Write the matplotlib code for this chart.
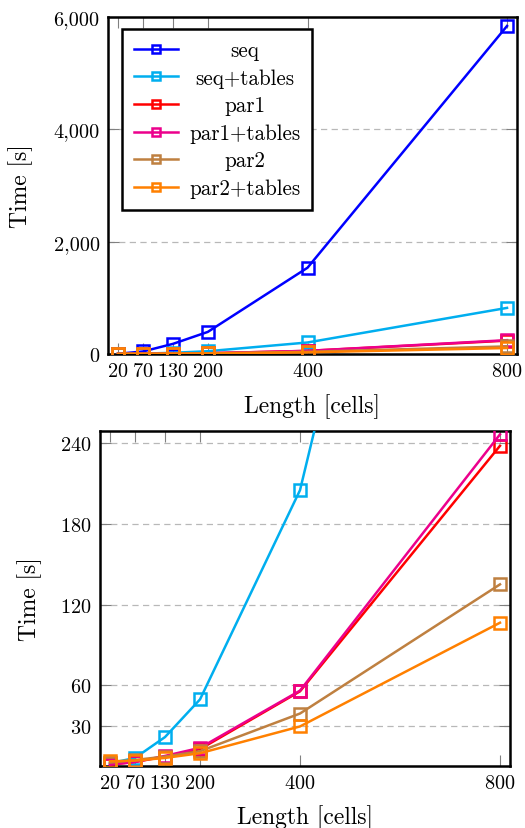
import matplotlib
matplotlib.use("Agg")
import matplotlib.pyplot as plt
from matplotlib.ticker import FixedLocator, FuncFormatter

plt.rcParams['font.family'] = ['cmr10', 'DejaVu Serif']
plt.rcParams['axes.formatter.use_mathtext'] = True

# ---- data ----
lengths = [20, 70, 130, 200, 400, 800]
seq = [4, 45, 180, 393, 1536, 5840]
seq_tables = [2, 6, 21.5, 49.5, 205, 821]
par1 = [1, 3, 7, 12.5, 55.5, 238]
par1_tables = [1, 3, 7.5, 13.5, 56, 246.5]
par2 = [2.5, 4.5, 7, 11, 39, 135]
par2_tables = [3.5, 4, 6, 9.5, 29.4, 106.5]

labels = ["seq", "seq+tables", "par1", "par1+tables", "par2", "par2+tables"]
colors = ["#0000FF", "#00AEEF", "#FF0000", "#EC008C", "#BF8040", "#FF8000"]
top_series = [seq, seq_tables, par1, par1_tables, par2, par2_tables]
bottom_series = [None, seq_tables, par1, par1_tables, par2, par2_tables]

x_ticks = [20, 70, 130, 200, 400, 800]
top_yticks = [0, 2000, 4000, 6000]
bottom_yticks = [30, 60, 120, 180, 240]

W, H = 525, 829
fig = plt.figure(figsize=(W / 100, H / 100), dpi=100)

def px_axes(l, t, r, b):
    return fig.add_axes([l / W, 1 - b / H, (r - l) / W, (b - t) / H])

ax1 = px_axes(108, 18, 517, 355)
ax2 = px_axes(100, 432, 510, 767)

FS = 14.6
LEGFS = 15.2
LFS = 17
LW = 1.8

def style(ax):
    for s in ax.spines.values():
        s.set_linewidth(1.8)
        s.set_color('black')
    ax.tick_params(direction='in', length=8, width=0.8, color='#808080',
                   top=True, right=True, labelsize=FS, pad=6)
    ax.grid(axis='y', color='#b8b8b8', linestyle=(0, (5, 3.5)), linewidth=0.9)
    ax.set_axisbelow(True)
    ax.xaxis.set_major_locator(FixedLocator(x_ticks))
    ax.set_xlim(0, 820)
    ax.set_xlabel("Length [cells]", fontsize=LFS)
    ax.set_ylabel("Time [s]", fontsize=LFS)

for ys, lab, c in zip(top_series, labels, colors):
    ax1.plot(lengths, ys, color=c, lw=LW, marker='s', ms=8.5,
             mfc='none', mec=c, mew=1.8, label=lab, zorder=3)
style(ax1)
ax1.set_ylim(0, 6000)
ax1.yaxis.set_major_locator(FixedLocator(top_yticks))
ax1.yaxis.set_major_formatter(FuncFormatter(lambda v, p: f"{v:,.0f}"))
ax1.xaxis.set_label_coords(0.5, -0.115)
ax1.yaxis.set_label_coords(-0.183, 0.5)

for ys, lab, c in zip(bottom_series, labels, colors):
    if ys is None:
        continue
    ax2.plot(lengths, ys, color=c, lw=LW, marker='s', ms=8.5,
             mfc='none', mec=c, mew=1.8, zorder=3)
style(ax2)
ax2.set_ylim(0, 249)
ax2.yaxis.set_major_locator(FixedLocator(bottom_yticks))
ax2.xaxis.set_label_coords(0.5, -0.115)
ax2.yaxis.set_label_coords(-0.141, 0.5)

leg = ax1.legend(loc='upper left', bbox_to_anchor=(0.034, 0.964),
                 borderaxespad=0, fontsize=LEGFS, fancybox=False,
                 edgecolor='black', framealpha=1, markerscale=0.6,
                 handlelength=2.1, handletextpad=0.55, labelspacing=0.38,
                 borderpad=0.55)
leg.get_frame().set_linewidth(1.8)

fig.canvas.draw()
texts = leg.get_texts()
r = fig.canvas.get_renderer()
widths = [t.get_window_extent(r).width for t in texts]
mw = max(widths)
for t, w in zip(texts, widths):
    t.set_position(((mw - w) / 2, 0))

fig.savefig("out.png", dpi=100)
